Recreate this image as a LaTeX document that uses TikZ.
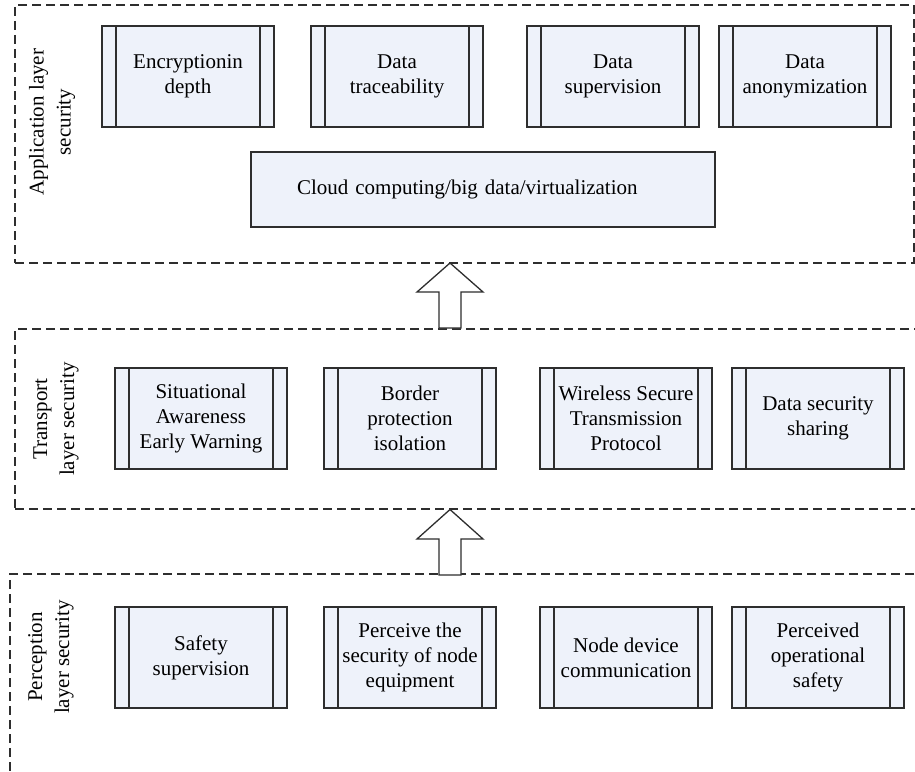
\documentclass[tikz,border=0pt]{standalone}
\usepackage{fontspec}
\setmainfont{Liberation Serif}
\definecolor{boxfill}{HTML}{EEF2FA}
\definecolor{linecol}{HTML}{2E2E2E}
\tikzset{
  blk/.style={draw=linecol, fill=boxfill, line width=1.2pt, minimum width=172pt, minimum height=101pt,
    inner sep=0pt, align=center, font=\fontsize{21}{25}\selectfont,
    path picture={
      \draw[linecol, line width=1.2pt]
        ([xshift=14pt]path picture bounding box.south west) -- ([xshift=14pt]path picture bounding box.north west)
        ([xshift=-14pt]path picture bounding box.south east) -- ([xshift=-14pt]path picture bounding box.north east);
    }},
  cloudbox/.style={draw=linecol, fill=boxfill, line width=1.2pt, minimum height=75pt,
    text width=372pt, inner xsep=46pt, inner ysep=0pt, align=left, font=\fontsize{21}{25}\selectfont},
  layer/.style={draw=linecol, line width=1.1pt, dash pattern=on 9pt off 5pt, inner sep=0pt},
  layerlbl/.style={rotate=90, align=center, font=\fontsize{21}{27}\selectfont},
  blockarrow/.style={draw=linecol, fill=white, line width=1.3pt, line join=miter},
}
\begin{document}
\begin{tikzpicture}[x=1pt, y=-1pt]
\useasboundingbox (0,0) rectangle (915,771);
\clip (0,0) rectangle (915,771);
% layers
\node[layer, minimum width=899pt, minimum height=258pt] (app) at (464.5,134) {};
\node[layer, minimum width=910pt, minimum height=180pt] (trans) at (470,419) {};
\node[layer, minimum width=920pt, minimum height=226pt] (perc) at (470,687) {};
% labels
\node[layerlbl] (applbl) at (52,122) {Application layer\\security};
\node[layerlbl] (translbl) at (56,419) {Transport\\layer security};
\node[layerlbl] (perclbl) at (51,657) {Perception\\layer security};
% application layer
\node[blk] (enc) at (188,76.5) {Encryptionin\\depth};
\node[blk] (trace) at (397,76.5) {Data\\traceability};
\node[blk] (superv) at (613,76.5) {Data\\supervision};
\node[blk] (anon) at (805,76.5) {Data\\anonymization};
\node[cloudbox] (cloud) at (483,189.5) {Cloud computing/big data/virtualization};
% transport layer
\node[blk] (sit) at (201,418.5) {Situational\\Awareness\\Early Warning};
\node[blk] (border) at (410,418.5) {Border\\protection\\isolation};
\node[blk] (wireless) at (626,418.5) {Wireless Secure\\Transmission\\Protocol};
\node[blk] (share) at (818,418.5) {Data security\\sharing};
% perception layer
\node[blk] (safety) at (201,657.5) {Safety\\supervision};
\node[blk] (perceive) at (410,657.5) {Perceive the\\security of node\\equipment};
\node[blk] (nodedev) at (626,657.5) {Node device\\communication};
\node[blk] (percop) at (818,657.5) {Perceived\\operational\\safety};
% block arrows
\coordinate (a1) at (450,263);
\coordinate (a2) at (450,509.5);
\draw[blockarrow] (a1) -- ++(33,29) -- ++(-22,0) -- ++(0,36) -- ++(-22,0) -- ++(0,-36) -- ++(-22,0) -- cycle;
\draw[blockarrow] (a2) -- ++(33,29.5) -- ++(-22,0) -- ++(0,36) -- ++(-22,0) -- ++(0,-36) -- ++(-22,0) -- cycle;
\end{tikzpicture}
\end{document}
